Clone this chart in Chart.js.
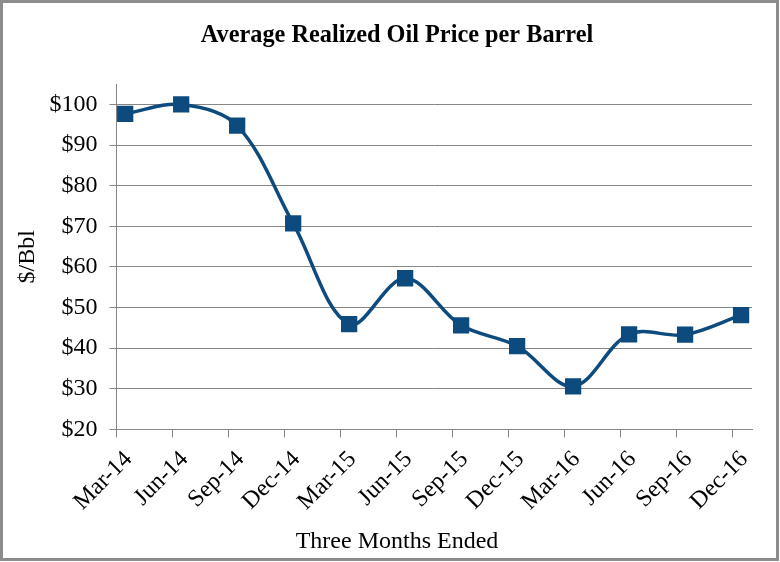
<!DOCTYPE html>
<html>
<head>
<meta charset="utf-8">
<script src="https://cdn.jsdelivr.net/npm/chart.js@4.4.0/dist/chart.umd.min.js"></script>
<style>
  html, body { margin: 0; padding: 0; background: #fff; }
  #wrap { position: relative; width: 780px; height: 562px; }
  #frame { position: absolute; left: 0; top: 0; width: 779px; height: 561px; box-sizing: border-box; border: 3px solid #8c8c8c; pointer-events: none; }
</style>
</head>
<body>
<div id="wrap">
  <canvas id="c" width="780" height="562"></canvas>
  <div id="frame"></div>
</div>
<script>
const categories = ['Mar-14','Jun-14','Sep-14','Dec-14','Mar-15','Jun-15','Sep-15','Dec-15','Mar-16','Jun-16','Sep-16','Dec-16'];
const prices = [97.7, 100.0, 94.8, 70.7, 45.9, 57.2, 45.6, 40.5, 30.6, 43.4, 43.3, 48.1];
const yTicks = [20, 30, 40, 50, 60, 70, 80, 90, 100];
const pointShift = 0.155; // points sit slightly after each category tick

const FONT = 'Liberation Serif';
const GRID = '#868686';
const BLUE = '#0D4A7E';

const points = prices.map((v, i) => ({ x: i + pointShift, y: v }));

new Chart(document.getElementById('c'), {
  type: 'line',
  data: {
    datasets: [{
      data: points,
      borderColor: BLUE,
      backgroundColor: BLUE,
      borderWidth: 3.5,
      tension: 0.35,
      pointStyle: 'rect',
      pointRadius: 11.5,
      pointBackgroundColor: BLUE,
      pointBorderColor: BLUE,
      pointBorderWidth: 0,
      fill: false
    }]
  },
  options: {
    responsive: false,
    animation: false,
    devicePixelRatio: 1,
    layout: { padding: { left: 14, right: 0, top: 0, bottom: 0 } },
    plugins: {
      legend: { display: false },
      tooltip: { enabled: false },
      title: {
        display: true,
        text: 'Average Realized Oil Price per Barrel',
        color: '#000',
        font: { family: FONT, size: 24.3, weight: 'bold' },
        padding: { top: 21.6, bottom: 33.4 }
      },
      subtitle: {
        display: true,
        position: 'bottom',
        text: 'Three Months Ended',
        color: '#000',
        font: { family: FONT, size: 24 },
        padding: { top: 0, bottom: 6 }
      }
    },
    scales: {
      x: {
        type: 'linear',
        min: 0,
        max: 11.35,
        afterBuildTicks: (s) => { s.ticks = categories.map((_, i) => ({ value: i })); },
        afterFit: (s) => { s.height = 97.9; },
        ticks: {
          autoSkip: false,
          minRotation: 45,
          maxRotation: 45,
          color: '#000',
          font: { family: FONT, size: 24 },
          padding: 8,
          labelOffset: 12,
          callback: (v) => categories[v]
        },
        grid: { drawOnChartArea: false, drawTicks: true, tickLength: 8, color: GRID, lineWidth: 1 },
        border: { color: GRID, width: 1 }
      },
      y: {
        type: 'linear',
        min: 20,
        max: 105,
        afterBuildTicks: (s) => { s.ticks = yTicks.map(v => ({ value: v })); },
        afterFit: (s) => { s.width = 102.5; },
        ticks: {
          color: '#000',
          font: { family: FONT, size: 24 },
          padding: 12,
          callback: (v) => '$' + v
        },
        grid: { color: GRID, lineWidth: 1, tickLength: 7 },
        border: { color: GRID, width: 1 },
        title: {
          display: true,
          text: '$/Bbl',
          color: '#000',
          font: { family: FONT, size: 24 },
          padding: { top: -1, bottom: 0 }
        }
      },
      y2: {
        axis: 'y',
        type: 'linear',
        position: 'right',
        display: true,
        afterFit: (s) => { s.width = 28; },
        ticks: { display: false },
        grid: { display: false },
        border: { display: false }
      }
    }
  }
});
</script>
</body>
</html>
